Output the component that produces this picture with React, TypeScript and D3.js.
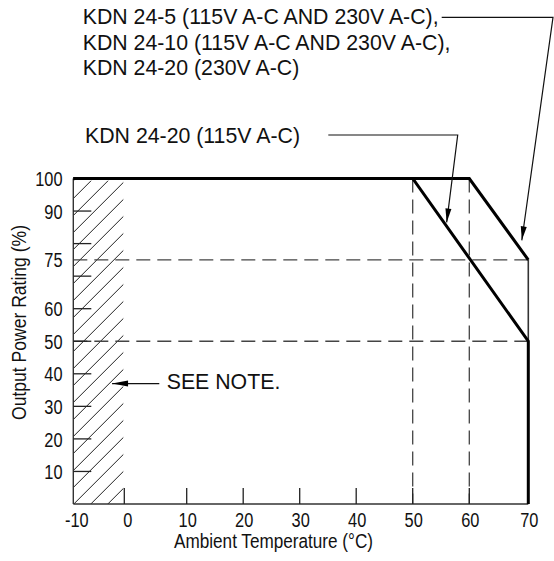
import React from "react";
import * as d3 from "d3";

// ---- data ----
const tempTicks = [-10, 0, 10, 20, 30, 40, 50, 60, 70];
const powerTickMarks = [10, 20, 30, 40, 50, 60, 70, 80, 90];
const powerLabels = [10, 20, 30, 40, 50, 60, 75, 90, 100];

// KDN 24-5, KDN 24-10 (115/230V), KDN 24-20 (230V)
const seriesATemp = [-10, 60, 70];
const seriesAPower = [100, 100, 75];
// KDN 24-20 (115V)
const seriesBTemp = [-10, 50, 70, 70];
const seriesBPower = [100, 100, 50, 0];

const guidePowers = [75, 50];
const guideTemps = [50, 60];

const labelA = [
  "KDN 24-5 (115V A-C AND 230V A-C),",
  "KDN 24-10 (115V A-C AND 230V A-C),",
  "KDN 24-20 (230V A-C)",
];
const labelB = "KDN 24-20 (115V A-C)";
const noteText = "SEE NOTE.";
const xTitle = "Ambient Temperature (°C)";
const yTitle = "Output Power Rating (%)";

const W = 554;
const H = 561;

const FONT = "'Liberation Sans', Arial, Helvetica, sans-serif";
const NARROW_X = 0.78;

function arrowHead(tip: [number, number], from: [number, number], len = 14, half = 3) {
  const dx = tip[0] - from[0];
  const dy = tip[1] - from[1];
  const d = Math.hypot(dx, dy);
  const ux = dx / d, uy = dy / d;
  const bx = tip[0] - ux * len, by = tip[1] - uy * len;
  const px = -uy * half, py = ux * half;
  return `M${tip[0]},${tip[1]}L${bx + px},${by + py}L${bx - px},${by - py}Z`;
}

export default function App() {
  // axis calibrated from the drawing's tick positions
  const x = d3.scaleLinear().domain([-10, 0, 10, 50, 60, 70]).range([73.3, 124.3, 186.7, 412.7, 469.3, 528.3]);
  const y = d3.scaleLinear().domain([0, 100]).range([504, 178.5]);

  const line = d3
    .line<[number, number]>()
    .x((d) => x(d[0]))
    .y((d) => y(d[1]));

  const ptsA: [number, number][] = seriesATemp.map((t, i) => [t, seriesAPower[i]]);
  const ptsB: [number, number][] = seriesBTemp.map((t, i) => [t, seriesBPower[i]]);

  // hatch region (-10..0)
  const hx0 = x(-10), hx1 = x(0) - 1, hy0 = y(100) + 2, hy1 = y(0);
  const spacing = 17;
  const hatchOffsets = d3.range(hx0 + 1 - (hy1 - hy0), hx1 + spacing, spacing);

  const dash = "14 7";

  // annotation anchors
  const tipA: [number, number] = [x(68.9), y(81)];
  const elbowA: [number, number] = [553, 17.3];
  const tipB: [number, number] = [x(56), y(86.5)];
  const elbowB: [number, number] = [457.7, 135];
  const tipN: [number, number] = [x(-2.4), y(37)];
  const startN: [number, number] = [159.3, tipN[1]];

  return (
    <svg
      width={W}
      height={H}
      style={{ position: "absolute", left: 0, top: 0, background: "#fff" }}
      xmlns="http://www.w3.org/2000/svg"
    >
      <rect width={W} height={H} fill="#fff" />
      <defs>
        <clipPath id="hatchClip">
          <rect x={hx0} y={hy0} width={hx1 - hx0} height={hy1 - hy0} />
        </clipPath>
      </defs>

      {/* hatch */}
      <g clipPath="url(#hatchClip)" stroke="#222" strokeWidth={1}>
        {hatchOffsets.map((c, i) => (
          <line key={i} x1={c} y1={hy1} x2={c + (hy1 - hy0)} y2={hy0} />
        ))}
      </g>

      {/* dashed guides */}
      <g stroke="#444" strokeWidth={1.3} strokeDasharray={dash} fill="none">
        {guidePowers.map((p) => (
          <line key={"h" + p} x1={x(-10)} x2={x(70)} y1={y(p)} y2={y(p)} />
        ))}
        {guideTemps.map((t) => (
          <line key={"v" + t} x1={x(t)} x2={x(t)} y1={y(100)} y2={y(0)} />
        ))}
      </g>

      {/* axes */}
      <line x1={x(-10)} x2={x(-10)} y1={y(100)} y2={y(0)} stroke="#333" strokeWidth={1.4} />
      <line x1={x(-10)} x2={x(70)} y1={y(0)} y2={y(0)} stroke="#333" strokeWidth={1.6} />
      <g stroke="#222" strokeWidth={1.3}>
        {powerTickMarks.map((p) => (
          <line key={p} x1={x(-10)} x2={x(-10) + 18} y1={y(p)} y2={y(p)} />
        ))}
        {tempTicks.filter((t) => t > -10).map((t) => (
          <line key={t} x1={x(t)} x2={x(t)} y1={y(0)} y2={y(0) - 16} />
        ))}
      </g>

      {/* derating curves */}
      <line x1={x(70)} x2={x(70)} y1={y(75)} y2={y(50)} stroke="#333" strokeWidth={1.6} />
      <path d={line(ptsA) || ""} fill="none" stroke="#000" strokeWidth={3} strokeLinejoin="miter" />
      <path d={line(ptsB) || ""} fill="none" stroke="#000" strokeWidth={3} strokeLinejoin="miter" />

      {/* tick labels (condensed) */}
      <g fontFamily={FONT} fontSize={21} fill="#111">
        {powerLabels.map((p) => (
          <text
            key={p}
            transform={`translate(62.5, ${y(p) + 7.6}) scale(${NARROW_X}, 1)`}
            textAnchor="end"
          >
            {p}
          </text>
        ))}
        {tempTicks.map((t) => (
          <text
            key={t}
            transform={`translate(${x(t) + (t <= 0 ? 3.5 : 1)}, 526.7) scale(${NARROW_X}, 1)`}
            textAnchor="middle"
          >
            {t}
          </text>
        ))}
        <text
          x={174}
          y={547.5}
          fontSize={20.5}
          textLength={199}
          lengthAdjust="spacingAndGlyphs"
        >
          {xTitle}
        </text>
        <text
          transform={`translate(25.5, 420) rotate(-90)`}
          fontSize={20.5}
          textLength={195}
          lengthAdjust="spacingAndGlyphs"
        >
          {yTitle}
        </text>
      </g>

      {/* annotations */}
      <g fontFamily={FONT} fontSize={21.3} fill="#111">
        {labelA.map((s, i) => (
          <text key={i} x={82.7} y={24 + i * 25.6}>
            {s}
          </text>
        ))}
        <text x={85} y={142.7}>
          {labelB}
        </text>
        <text x={166.7} y={389.3}>
          {noteText}
        </text>
      </g>
      <g stroke="#111" strokeWidth={1.2} fill="none">
        <polyline points={`441.7,${elbowA[1]} ${elbowA[0]},${elbowA[1]} ${tipA[0]},${tipA[1]}`} />
        <polyline points={`328.3,${elbowB[1]} ${elbowB[0]},${elbowB[1]} ${tipB[0]},${tipB[1]}`} />
        <line x1={startN[0]} y1={startN[1]} x2={tipN[0]} y2={tipN[1]} />
      </g>
      <g fill="#000">
        <path d={arrowHead(tipA, elbowA)} />
        <path d={arrowHead(tipB, elbowB)} />
        <path d={arrowHead(tipN, startN, 16, 3)} />
      </g>
    </svg>
  );
}
